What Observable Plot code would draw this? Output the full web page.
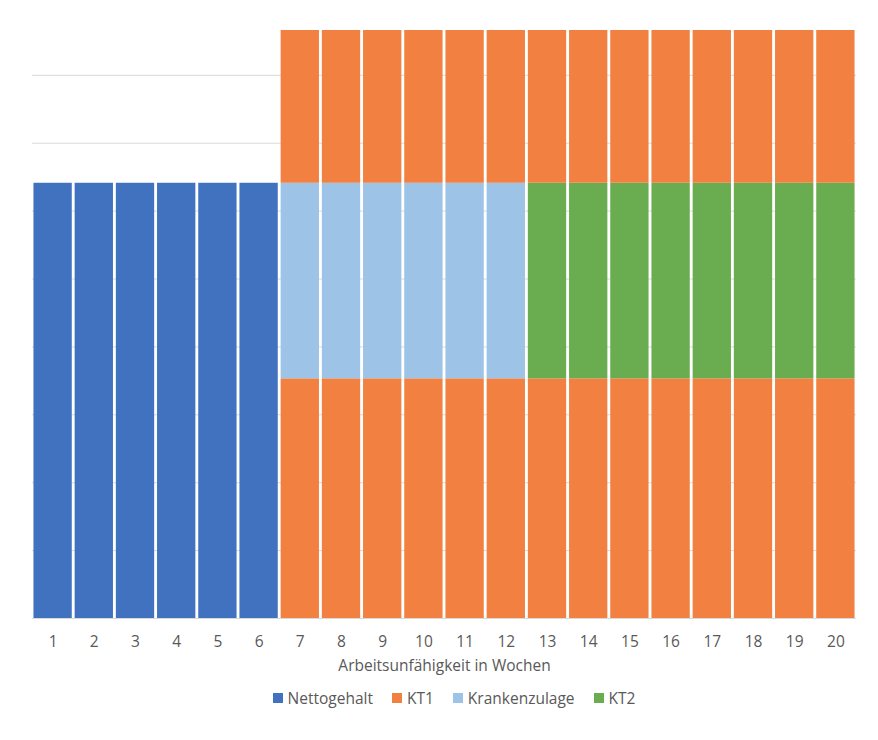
<!DOCTYPE html>
<html>
<head>
<meta charset="utf-8">
<script src="https://cdn.jsdelivr.net/npm/d3@7"></script>
<script src="https://cdn.jsdelivr.net/npm/@observablehq/plot@0.6"></script>
<style>
  body { margin: 0; background: #fff; font-family: "Open Sans", sans-serif; }
  #chart { width: 878px; }
  .legend { display: flex; justify-content: center; gap: 19px; margin-top: 7px; padding-left: 30px;
            font-size: 15.5px; color: #595959; }
  .legend span.item { display: flex; align-items: center; }
  .legend span.sw { display: inline-block; width: 10px; height: 10px; margin-right: 5px; }
</style>
</head>
<body>
<div id="chart"></div>
<script>
// Weeks of incapacity (x categories)
const weeks = [1,2,3,4,5,6,7,8,9,10,11,12,13,14,15,16,17,18,19,20];
// Series values in gridline units (stacked bottom -> top)
const nettogehalt   = [6.41,6.41,6.41,6.41,6.41,6.41,0,0,0,0,0,0,0,0,0,0,0,0,0,0];
const kt1Bottom     = [0,0,0,0,0,0,3.53,3.53,3.53,3.53,3.53,3.53,3.53,3.53,3.53,3.53,3.53,3.53,3.53,3.53];
const krankenzulage = [0,0,0,0,0,0,2.88,2.88,2.88,2.88,2.88,2.88,0,0,0,0,0,0,0,0];
const kt2           = [0,0,0,0,0,0,0,0,0,0,0,0,2.88,2.88,2.88,2.88,2.88,2.88,2.88,2.88];
const kt1Top        = [0,0,0,0,0,0,2.25,2.25,2.25,2.25,2.25,2.25,2.25,2.25,2.25,2.25,2.25,2.25,2.25,2.25];
const gridTicks = [0,1,2,3,4,5,6,7,8];
const seriesNames = ["Nettogehalt", "KT1", "Krankenzulage", "KT2"];
const seriesColors = ["#4172C0", "#F18041", "#9DC3E6", "#6AAD51"];

const layers = [
  ["Nettogehalt", nettogehalt],
  ["KT1", kt1Bottom],
  ["Krankenzulage", krankenzulage],
  ["KT2", kt2],
  ["KT1", kt1Top]
];
const rows = [];
weeks.forEach((w, i) => {
  layers.forEach(([name, arr], li) => {
    if (arr[i] > 0) rows.push({week: w, series: name, value: arr[i], layer: li});
  });
});

const chart = Plot.plot({
  width: 878,
  height: 680,
  marginLeft: 32,
  marginRight: 22,
  marginTop: 30,
  marginBottom: 62,
  style: {fontFamily: "'Open Sans', sans-serif", fontSize: "15.5px", color: "#595959"},
  x: {type: "band", domain: weeks, paddingInner: 0.07, paddingOuter: 0.035, round: false, axis: null},
  y: {domain: [0, 8.66], axis: null},
  color: {domain: seriesNames, range: seriesColors},
  marks: [
    Plot.ruleY(gridTicks, {stroke: "#D9D9D9", strokeWidth: 1}),
    Plot.barY(rows, {x: "week", y: "value", fill: "series", z: "layer", order: null, inset: 0}),
    Plot.axisX({tickSize: 0, tickPadding: 17, fontSize: 15.5, fill: "#595959",
                label: "Arbeitsunfähigkeit in Wochen", labelAnchor: "center", labelArrow: "none",
                labelOffset: 52})
  ]
});
document.getElementById("chart").appendChild(chart);

const legend = document.createElement("div");
legend.className = "legend";
seriesNames.forEach((n, i) => {
  const item = document.createElement("span");
  item.className = "item";
  item.innerHTML = `<span class="sw" style="background:${seriesColors[i]}"></span>${n}`;
  legend.appendChild(item);
});
document.body.appendChild(legend);
</script>
</body>
</html>
